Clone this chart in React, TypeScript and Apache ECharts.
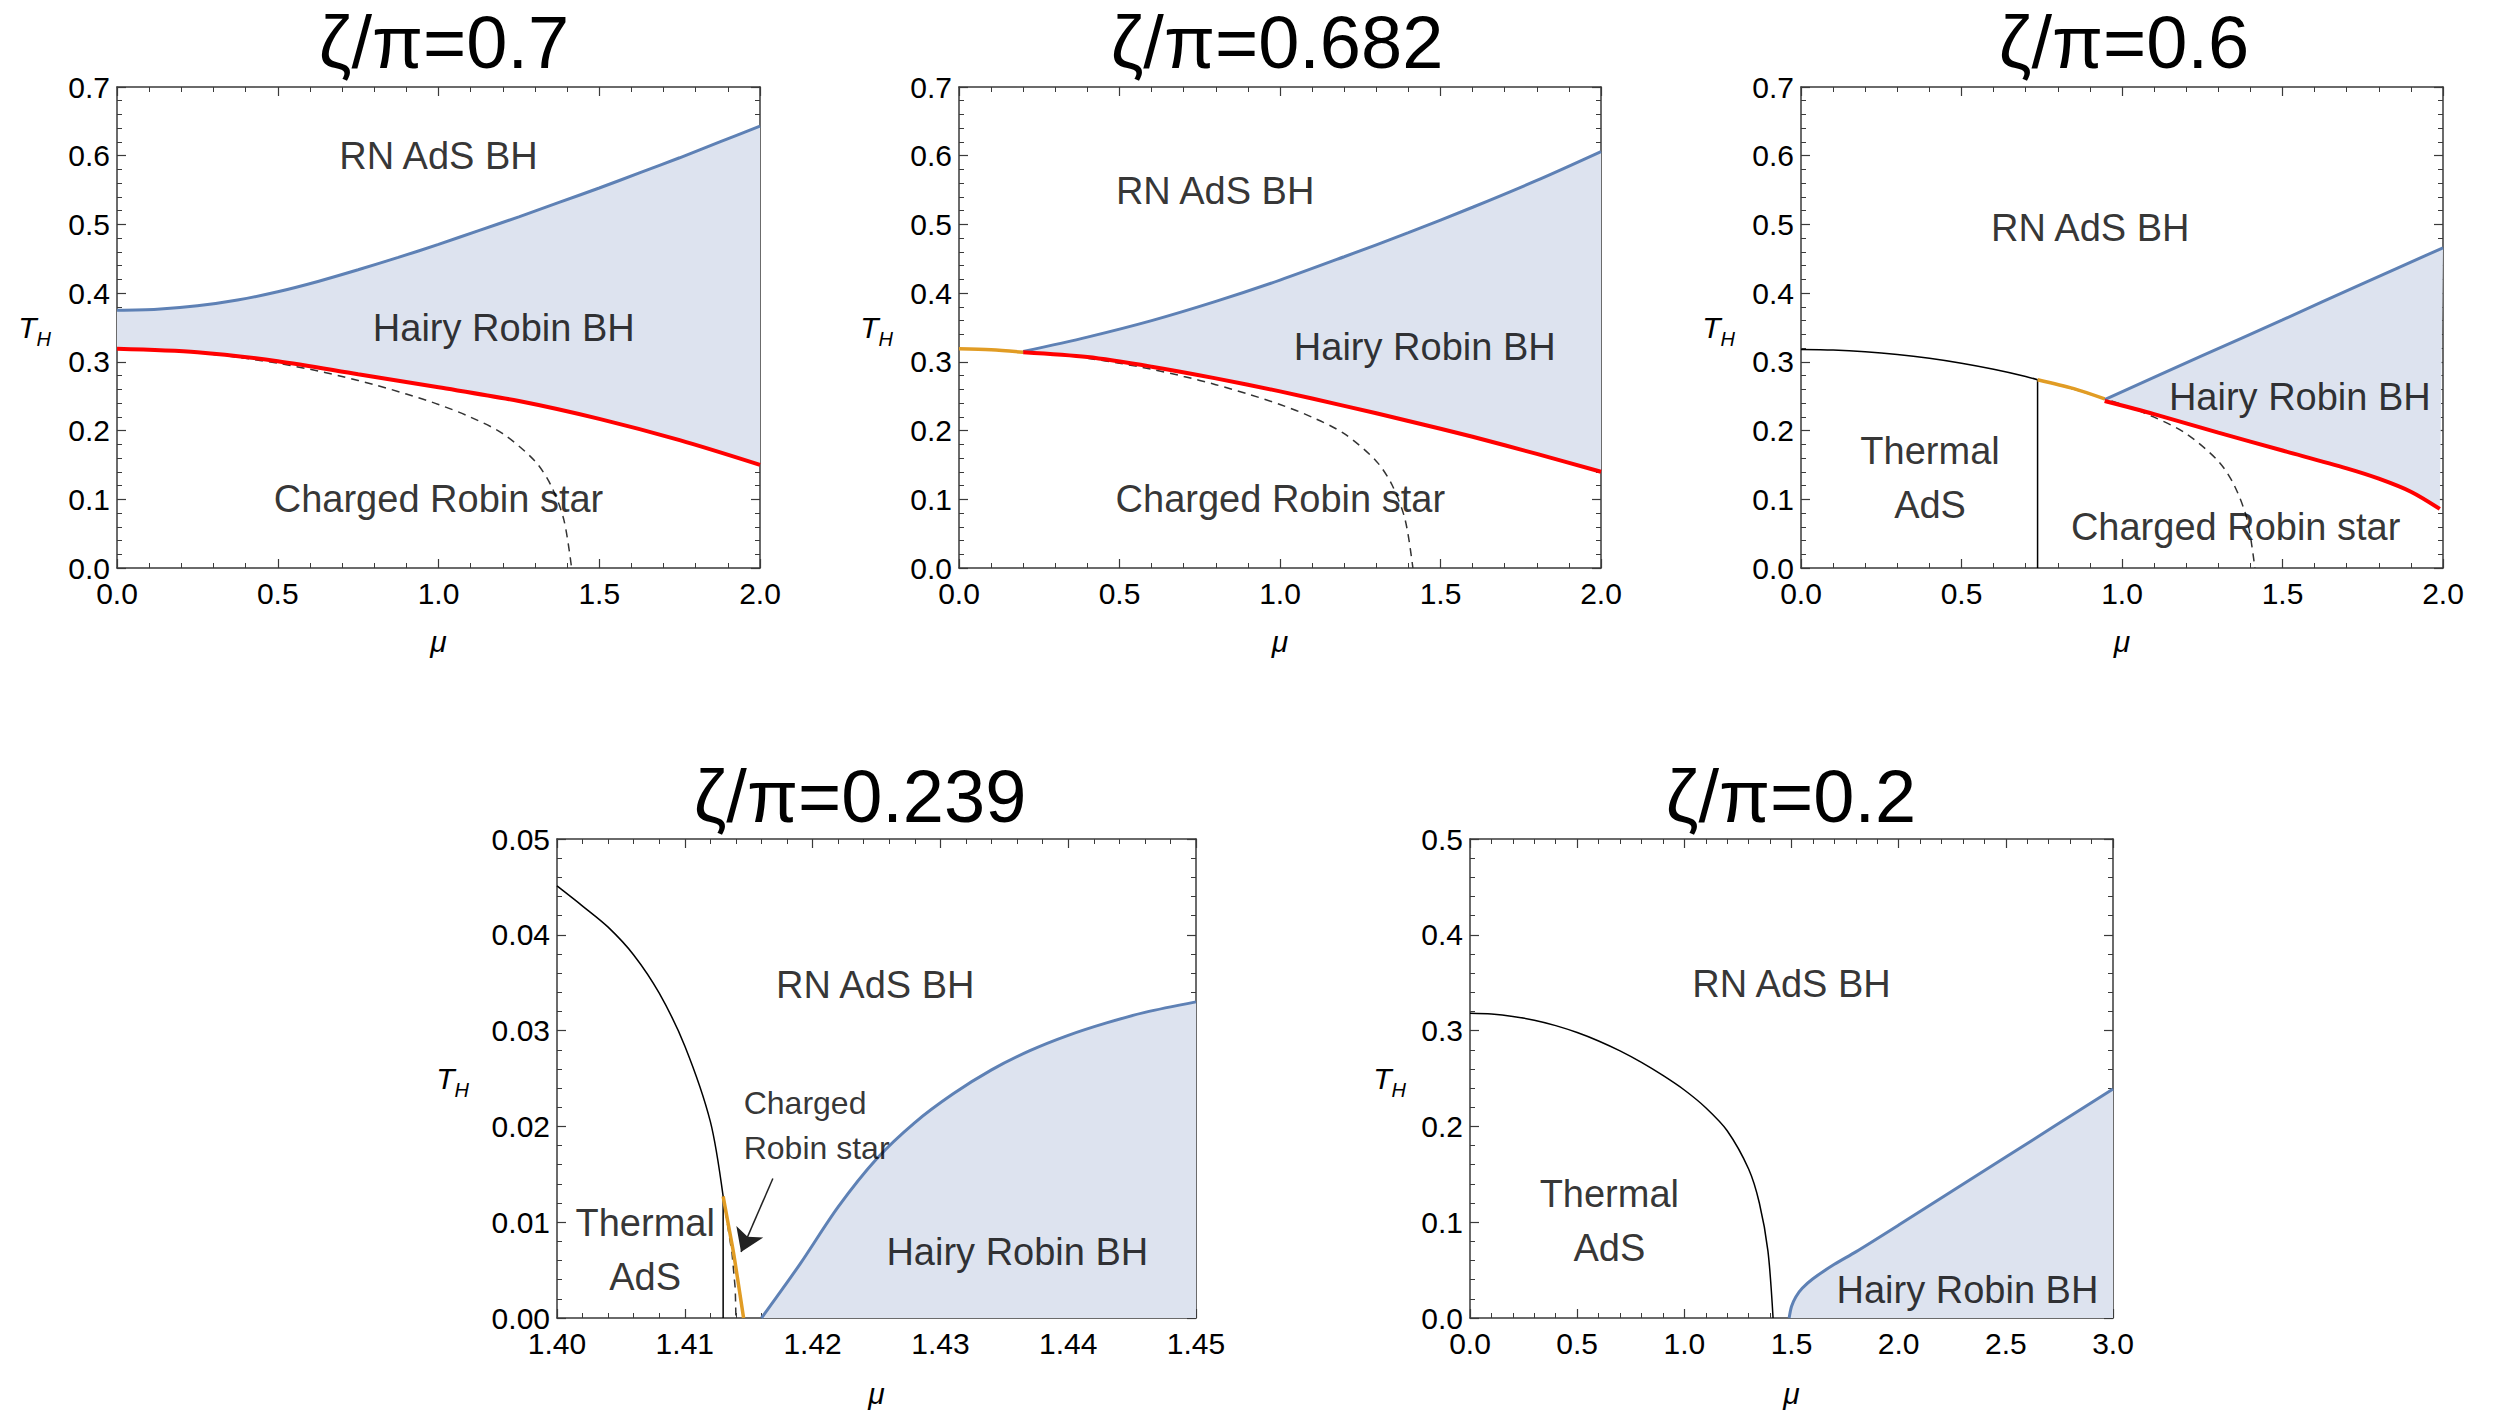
import React, { useEffect, useRef } from 'react';
import * as echarts from 'echarts';

const FONT = '"Liberation Sans", Arial, Helvetica, sans-serif';
const BLUE = '#5e81b5';
const RED = '#ff0000';
const ORANGE = '#e19c24';
const FILL = '#dde3ef';
const INK = '#000000';
const FRAME = '#3a3a3a';

type Pt = [number, number];
type Label = [number, number, string];

// Thermal AdS / RN AdS BH boundary (shared by several panels)
const thermalMu = [0, 0.1, 0.2, 0.3, 0.4, 0.5, 0.6, 0.7, 0.8, 0.9, 1.0, 1.1, 1.2, 1.3, 1.35, 1.39, 1.414];
const thermalT = [0.318, 0.3172, 0.3148, 0.3108, 0.3052, 0.298, 0.2892, 0.2788, 0.2668, 0.2532, 0.238, 0.2195, 0.1955, 0.1555, 0.12, 0.07, 0];

// ζ/π = 0.7
const p1HairyMu = [0, 0.125, 0.25, 0.375, 0.5, 0.625, 0.75, 0.875, 1.0, 1.125, 1.25, 1.375, 1.5, 1.625, 1.75, 1.875, 2.0];
const p1HairyT = [0.375, 0.3765, 0.3815, 0.39, 0.402, 0.417, 0.434, 0.452, 0.471, 0.491, 0.511, 0.532, 0.553, 0.575, 0.597, 0.62, 0.643];
const p1StarMu = [0, 0.25, 0.5, 0.75, 1.0, 1.25, 1.5, 1.75, 2.0];
const p1StarT = [0.319, 0.314, 0.301, 0.282, 0.263, 0.243, 0.217, 0.186, 0.15];
const p1Labels: Label[] = [
  [1.0, 0.599, 'RN AdS BH'],
  [1.203, 0.35, 'Hairy Robin BH'],
  [1.0, 0.101, 'Charged Robin star'],
];

// ζ/π = 0.682
const p2OrangeMu = [0, 0.1, 0.2];
const p2OrangeT = [0.319, 0.3175, 0.314];
const p2Mu = [0.2, 0.4, 0.6, 0.8, 1.0, 1.2, 1.4, 1.6, 1.8, 2.0];
const p2Hairy = [0.315, 0.336, 0.36, 0.388, 0.419, 0.453, 0.488, 0.525, 0.564, 0.606];
const p2Star = [0.314, 0.307, 0.293, 0.276, 0.257, 0.236, 0.214, 0.191, 0.166, 0.14];
const p2Labels: Label[] = [
  [0.798, 0.549, 'RN AdS BH'],
  [1.451, 0.322, 'Hairy Robin BH'],
  [1.001, 0.101, 'Charged Robin star'],
];

// ζ/π = 0.6
const p3Junction: Pt = [0.737, 0.274];
const p3Divider: Pt[] = [[0.737, 0], p3Junction];
const p3OrangeMu = [0.737, 0.85, 0.946];
const p3OrangeT = [0.274, 0.261, 0.246];
const p3HairyMu = [0.946, 1.25, 1.5, 1.75, 2.0];
const p3HairyT = [0.245, 0.309, 0.361, 0.414, 0.466];
const p3StarMu = [0.946, 1.1, 1.3, 1.5, 1.7, 1.8, 1.9, 1.99];
const p3StarT = [0.243, 0.224, 0.197, 0.171, 0.145, 0.13, 0.111, 0.086];
const p3Labels: Label[] = [
  [0.901, 0.495, 'RN AdS BH'],
  [1.554, 0.249, 'Hairy Robin BH'],
  [0.402, 0.131, 'Thermal\nAdS'],
  [1.354, 0.06, 'Charged Robin star'],
];

// ζ/π = 0.239
const p4ThermalMu = [1.4, 1.402, 1.404, 1.406, 1.408, 1.41, 1.412, 1.413];
const p4ThermalT = [0.0451, 0.043, 0.0408, 0.0379, 0.0339, 0.0284, 0.0205, 0.0127];
const p4Divider: Pt[] = [[1.413, 0], [1.413, 0.0127]];
const p4OrangeMu = [1.413, 1.4134, 1.4138, 1.4142, 1.4146];
const p4OrangeT = [0.0127, 0.0098, 0.0069, 0.0035, 0];
const p4DashMu = [1.413, 1.4137, 1.41395, 1.414];
const p4DashT = [0.0127, 0.0067, 0.003, 0];
const p4HairyMu = [1.416, 1.419, 1.422, 1.425, 1.428, 1.431, 1.434, 1.437, 1.44, 1.443, 1.446, 1.45];
const p4HairyT = [0, 0.0056, 0.0116, 0.0166, 0.0204, 0.0234, 0.0259, 0.0279, 0.0295, 0.0308, 0.0319, 0.033];
const p4Arrow: Pt[] = [[1.41689, 0.01456], [1.4144, 0.0069]];
const p4Labels: Label[] = [
  [1.4249, 0.03475, 'RN AdS BH'],
  [1.43602, 0.00693, 'Hairy Robin BH'],
  [1.4069, 0.0071, 'Thermal\nAdS'],
];
const p4SmallLabels: Label[] = [[1.41461, 0.02006, 'Charged\nRobin star']];

// ζ/π = 0.2
const p5HairyMu = [1.489, 1.5, 1.52, 1.55, 1.6, 1.7, 1.8, 2.0, 2.5, 3.0];
const p5HairyT = [0, 0.012, 0.022, 0.031, 0.041, 0.056, 0.069, 0.097, 0.168, 0.239];
const p5Labels: Label[] = [
  [1.5, 0.3486, 'RN AdS BH'],
  [2.321, 0.029, 'Hairy Robin BH'],
  [0.65, 0.101, 'Thermal\nAdS'],
];

const zip = (mu: number[], t: number[]): Pt[] => mu.map((m, i) => [m, t[i]] as Pt);
const thermal = zip(thermalMu, thermalT);
const thermalFrom = (mu0: number): Pt[] => thermal.filter((p) => p[0] >= mu0);
const thermalTo = (mu1: number): Pt[] => thermal.filter((p) => p[0] <= mu1);
const baseline = (pts: Pt[]): Pt[] => [[pts[0][0], 0], [pts[pts.length - 1][0], 0]];

interface Panel {
  title: string;
  tx: number;
  ty: number;
  left: number;
  top: number;
  width: number;
  height: number;
  xMin: number;
  xMax: number;
  xStep: number;
  xDig: number;
  yMax: number;
  yStep: number;
  yDig: number;
  yNameGap: number;
  xNameGap: number;
}

const panels: Panel[] = [
  { title: 'ζ/π=0.7', tx: 444, ty: 42, left: 117, top: 87, width: 643, height: 481, xMin: 0, xMax: 2, xStep: 0.5, xDig: 1, yMax: 0.7, yStep: 0.1, yDig: 1, yNameGap: 66, xNameGap: 58 },
  { title: 'ζ/π=0.682', tx: 1277, ty: 42, left: 959, top: 87, width: 642, height: 481, xMin: 0, xMax: 2, xStep: 0.5, xDig: 1, yMax: 0.7, yStep: 0.1, yDig: 1, yNameGap: 66, xNameGap: 58 },
  { title: 'ζ/π=0.6', tx: 2124, ty: 42, left: 1801, top: 87, width: 642, height: 481, xMin: 0, xMax: 2, xStep: 0.5, xDig: 1, yMax: 0.7, yStep: 0.1, yDig: 1, yNameGap: 66, xNameGap: 58 },
  { title: 'ζ/π=0.239', tx: 860, ty: 796, left: 557, top: 839, width: 639, height: 479, xMin: 1.4, xMax: 1.45, xStep: 0.01, xDig: 2, yMax: 0.05, yStep: 0.01, yDig: 2, yNameGap: 88, xNameGap: 60 },
  { title: 'ζ/π=0.2', tx: 1791, ty: 796, left: 1470, top: 839, width: 643, height: 479, xMin: 0, xMax: 3, xStep: 0.5, xDig: 1, yMax: 0.5, yStep: 0.1, yDig: 1, yNameGap: 64, xNameGap: 60 },
];

const axisBase = {
  type: 'value',
  axisLine: { show: true, onZero: false, lineStyle: { color: FRAME, width: 1.5 } },
  axisTick: { show: true, inside: true, length: 9, lineStyle: { color: FRAME, width: 1.2 } },
  minorTick: { show: true, splitNumber: 5, length: 5, lineStyle: { color: FRAME, width: 1 } },
  splitLine: { show: false },
  minorSplitLine: { show: false },
};

const labelStyle = (digits: number, margin: number) => ({
  show: true,
  fontSize: 30,
  fontFamily: FONT,
  color: '#000',
  margin,
  showMinLabel: true,
  showMaxLabel: true,
  formatter: (v: number) => v.toFixed(digits),
});

const line = (i: number, data: Pt[], color: string, width: number, extra: Record<string, unknown> = {}) => ({
  type: 'line',
  xAxisIndex: i,
  yAxisIndex: i,
  data,
  symbol: 'none',
  showSymbol: false,
  smooth: 0.3,
  lineStyle: { color, width },
  z: 3,
  silent: true,
  ...extra,
});

const dashed = (i: number, data: Pt[], extra: Record<string, unknown> = {}) =>
  line(i, data, '#333', 1.5, { lineStyle: { color: '#333', width: 1.5, type: [8, 6] }, z: 2, ...extra });

const fillBetween = (i: number, upper: Pt[], lower: Pt[]) => ({
  type: 'custom',
  coordinateSystem: 'cartesian2d',
  xAxisIndex: i,
  yAxisIndex: i,
  data: [upper[0]],
  silent: true,
  z: 1,
  renderItem: (_params: unknown, api: any) => ({
    type: 'polygon',
    shape: { points: upper.concat(lower.slice().reverse()).map((p) => api.coord(p)) },
    style: { fill: FILL },
  }),
});

const labels = (i: number, items: Label[], fontSize = 38, align = 'center') => ({
  type: 'scatter',
  xAxisIndex: i,
  yAxisIndex: i,
  symbol: 'circle',
  symbolSize: 1,
  itemStyle: { color: 'rgba(0,0,0,0)' },
  silent: true,
  z: 10,
  data: items.map(([m, t, text]) => ({ value: [m, t], name: text })),
  label: {
    show: true,
    position: 'inside',
    formatter: '{b}',
    fontSize,
    fontFamily: FONT,
    color: INK,
    lineHeight: Math.round(fontSize * 1.42),
    align,
    verticalAlign: 'middle',
  },
});

function buildOption() {
  const n = panels.length;
  const grid = panels.map((p) => ({
    left: p.left,
    top: p.top,
    width: p.width,
    height: p.height,
    containLabel: false,
    outerBoundsMode: 'none',
  }));

  const xAxis: any[] = [];
  const yAxis: any[] = [];
  panels.forEach((p, i) => {
    xAxis[i] = {
      ...axisBase,
      gridIndex: i,
      position: 'bottom',
      min: p.xMin,
      max: p.xMax,
      interval: p.xStep,
      axisLabel: labelStyle(p.xDig, 10),
      name: 'μ',
      nameLocation: 'middle',
      nameGap: p.xNameGap,
      nameMoveOverlap: false,
      nameTextStyle: { fontSize: 30, fontStyle: 'italic', fontFamily: FONT, color: '#000' },
    };
    xAxis[i + n] = {
      ...axisBase,
      gridIndex: i,
      position: 'top',
      min: p.xMin,
      max: p.xMax,
      interval: p.xStep,
      axisLabel: { show: false },
    };
    yAxis[i] = {
      ...axisBase,
      gridIndex: i,
      position: 'left',
      min: 0,
      max: p.yMax,
      interval: p.yStep,
      axisLabel: labelStyle(p.yDig, 7),
      name: '{t|T}{h|H}',
      nameLocation: 'middle',
      nameRotate: 0,
      nameGap: p.yNameGap,
      nameMoveOverlap: false,
      nameTextStyle: {
        rich: {
          t: { fontSize: 30, fontStyle: 'italic', fontFamily: FONT, color: '#000', lineHeight: 42, verticalAlign: 'middle' },
          h: { fontSize: 20, fontStyle: 'italic', fontFamily: FONT, color: '#000', lineHeight: 42, verticalAlign: 'bottom' },
        },
      },
    };
    yAxis[i + n] = {
      ...axisBase,
      gridIndex: i,
      position: 'right',
      min: 0,
      max: p.yMax,
      interval: p.yStep,
      axisLabel: { show: false },
    };
  });

  // ζ/π = 0.7
  const p1Up = zip(p1HairyMu, p1HairyT);
  const p1Lo = zip(p1StarMu, p1StarT);
  // ζ/π = 0.682
  const p2Up = zip(p2Mu, p2Hairy);
  const p2Lo = zip(p2Mu, p2Star);
  // ζ/π = 0.6
  const p3Up = zip(p3HairyMu, p3HairyT);
  const p3Lo = zip(p3StarMu, p3StarT);
  // ζ/π = 0.239
  const p4Up = zip(p4HairyMu, p4HairyT);
  // ζ/π = 0.2
  const p5Up = zip(p5HairyMu, p5HairyT);

  const series: any[] = [
    fillBetween(0, p1Up, p1Lo),
    dashed(0, thermalFrom(0.3)),
    line(0, p1Up, BLUE, 3),
    line(0, p1Lo, RED, 4),
    labels(0, p1Labels),

    fillBetween(1, p2Up, p2Lo),
    dashed(1, thermalFrom(0.4)),
    line(1, zip(p2OrangeMu, p2OrangeT), ORANGE, 3.5),
    line(1, p2Up, BLUE, 3),
    line(1, p2Lo, RED, 4),
    labels(1, p2Labels),

    fillBetween(2, p3Up, p3Lo),
    line(2, thermalTo(0.7).concat([p3Junction]), '#000', 1.5),
    dashed(2, thermalFrom(0.8)),
    line(2, p3Divider, '#000', 1.5, { smooth: false }),
    line(2, zip(p3OrangeMu, p3OrangeT), ORANGE, 3.5, { z: 4 }),
    line(2, p3Up, BLUE, 3),
    line(2, p3Lo, RED, 4),
    labels(2, p3Labels),

    fillBetween(3, p4Up, baseline(p4Up)),
    line(3, zip(p4ThermalMu, p4ThermalT), '#000', 1.5),
    line(3, p4Divider, '#000', 1.5, { smooth: false }),
    dashed(3, zip(p4DashMu, p4DashT), { smooth: false }),
    line(3, zip(p4OrangeMu, p4OrangeT), ORANGE, 3.5, { z: 4 }),
    line(3, p4Up, BLUE, 3),
    labels(3, p4Labels),
    labels(3, p4SmallLabels, 32, 'left'),
    {
      type: 'lines',
      coordinateSystem: 'cartesian2d',
      xAxisIndex: 3,
      yAxisIndex: 3,
      symbol: ['none', 'arrow'],
      symbolSize: [14, 22],
      lineStyle: { color: '#222', width: 1.5, opacity: 1 },
      silent: true,
      z: 8,
      data: [{ coords: p4Arrow }],
    },

    fillBetween(4, p5Up, baseline(p5Up)),
    line(4, thermal, '#000', 1.5),
    line(4, p5Up, BLUE, 3),
    labels(4, p5Labels),
  ];

  const graphic = panels.map((p) => ({
    type: 'text',
    x: p.tx,
    y: p.ty,
    silent: true,
    style: {
      text: p.title,
      fontSize: 74,
      fontFamily: FONT,
      fill: '#000',
      align: 'center',
      verticalAlign: 'middle',
    },
  }));

  return {
    animation: false,
    backgroundColor: '#ffffff',
    textStyle: { fontFamily: FONT },
    grid,
    xAxis,
    yAxis,
    series,
    graphic,
  };
}

export default function App() {
  const ref = useRef<HTMLDivElement>(null);

  useEffect(() => {
    if (!ref.current) return;
    const chart = echarts.init(ref.current, undefined, { renderer: 'svg' });
    chart.setOption(buildOption() as any);
    return () => chart.dispose();
  }, []);

  return (
    <div
      ref={ref}
      style={{ position: 'fixed', left: 0, top: 0, width: 2495, height: 1413, background: '#fff' }}
    />
  );
}
